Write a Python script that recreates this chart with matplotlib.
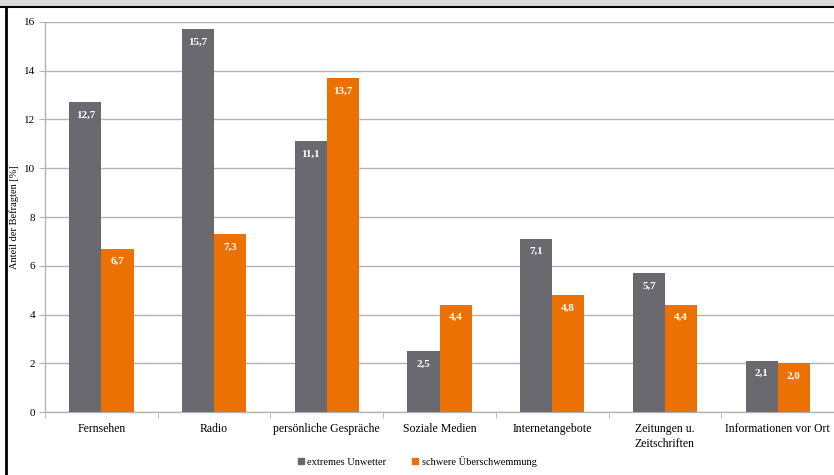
import numpy as np
import matplotlib.pyplot as plt
from matplotlib.lines import Line2D
from matplotlib.patches import Rectangle

plt.rcParams["font.family"] = ["Liberation Serif", "DejaVu Serif"]

categories = ["Fernsehen", "Radio", "persönliche Gespräche", "Soziale Medien",
              "Internetangebote", "Zeitungen u.\nZeitschriften", "Informationen vor Ort"]
unwetter = [12.7, 15.7, 11.1, 2.5, 7.1, 5.7, 2.1]
hochwasser = [6.7, 7.3, 13.7, 4.4, 4.8, 4.4, 2.0]
series_names = ["extremes Unwetter", "schwere Überschwemmung"]

GRAY = "#6a696f"
ORANGE = "#ec7103"
GRID = "#b3b3b3"

fig = plt.figure(figsize=(8.34, 4.75), dpi=100)
ax = fig.add_axes([0.054, 0.1326, 0.946, 0.8211])

x = np.arange(len(categories))
w = 0.285
bars1 = ax.bar(x - w / 2, unwetter, w, color=GRAY, zorder=3, label=series_names[0])
bars2 = ax.bar(x + w / 2, hochwasser, w, color=ORANGE, zorder=3, label=series_names[1])

for bars, vals in ((bars1, unwetter), (bars2, hochwasser)):
    for b, v in zip(bars, vals):
        ax.annotate(f"{v:.1f}".replace(".", ","), (b.get_x() + b.get_width() / 2, v),
                    xytext=(0, -6), textcoords="offset points", ha="center", va="top",
                    color="white", fontsize=8, fontweight="bold", zorder=4)

ax.set_ylim(0, 16)
ax.set_xlim(-0.5, len(categories) - 0.5)
ax.set_yticks(range(0, 17, 2))
ax.yaxis.grid(True, color=GRID, linewidth=1.0, zorder=0)
ax.set_ylabel("Anteil der Befragten [%]", fontsize=7.5, labelpad=4)
ax.tick_params(axis="y", labelsize=8, length=4, color=GRID, pad=3)

# category labels centred, tick marks at group boundaries
ax.set_xticks(x)
ax.set_xticklabels(categories, fontsize=8.5, linespacing=1.3)
ax.tick_params(axis="x", length=0, pad=8)
ax.set_xticks(np.arange(-0.5, len(categories), 1), minor=True)
ax.tick_params(axis="x", which="minor", length=4, color=GRID)

for s in ("top", "right"):
    ax.spines[s].set_visible(False)
for s in ("left", "bottom"):
    ax.spines[s].set_color(GRID)
    ax.spines[s].set_linewidth(1.0)

handles = [Rectangle((0, 0), 1, 1, color=GRAY), Rectangle((0, 0), 1, 1, color=ORANGE)]
fig.legend(handles, series_names, loc="center", bbox_to_anchor=(0.5, 0.029), ncol=2,
           frameon=False, fontsize=7.5, handlelength=0.6, handleheight=0.6,
           handletextpad=0.3, columnspacing=2.5)

# header band and frame line
fig.patches.append(Rectangle((0, 0.987), 1, 0.013, transform=fig.transFigure,
                             color="#d9d9d9", zorder=0))
fig.lines.append(Line2D([0, 1], [0.985, 0.985], transform=fig.transFigure,
                        color="black", linewidth=1.5))
fig.lines.append(Line2D([0.0075, 0.0075], [0, 0.985], transform=fig.transFigure,
                        color="black", linewidth=2.0))

fig.savefig("out.png", dpi=100)
